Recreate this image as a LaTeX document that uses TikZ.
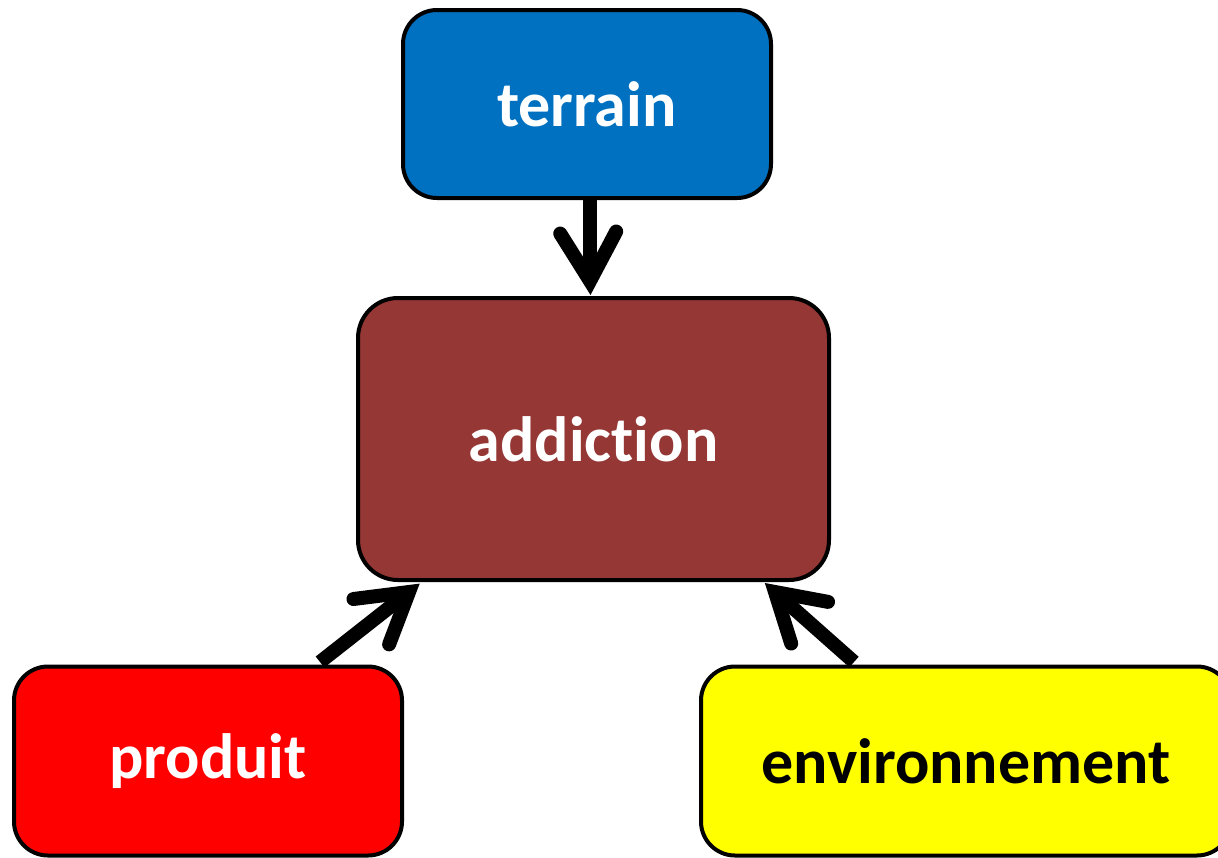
\documentclass[tikz,border=0pt]{standalone}
\usepackage{fontspec}
\setmainfont{Carlito}[Ligatures={NoCommon,NoRare}]
\usetikzlibrary{calc}
\definecolor{tblue}{HTML}{0070C0}
\definecolor{tbrown}{HTML}{953735}
\definecolor{tred}{HTML}{FF0000}
\definecolor{tyellow}{HTML}{FFFF00}
\tikzset{
  boxnode/.style={draw=black, line width=4pt, rounded corners=34pt, inner sep=0pt,
    font=\fontsize{64}{70}\selectfont\bfseries, text=white},
  shaft/.style={draw=black, line width=14pt, line cap=butt},
  chev/.style={draw=black, line width=14pt, line cap=round, line join=miter, miter limit=10}
}
\begin{document}
\begin{tikzpicture}[x=1pt,y=-1pt]
\useasboundingbox (0,0) rectangle (1218,857);
\node[boxnode, fill=tblue, minimum width=368pt, minimum height=188pt] (terrain) at (587,104) {terrain};
\node[boxnode, fill=tbrown, minimum width=471pt, minimum height=282pt, rounded corners=40pt] (addiction) at (593.5,439) {addiction};
\node[boxnode, fill=tred, minimum width=388pt, minimum height=189pt] (produit) at (208,761) {produit};
\node[boxnode, fill=tyellow, text=black, minimum width=530pt, minimum height=189pt] (env) at (966,761) {environnement};
% terrain -> addiction
\coordinate (tv) at ($(addiction.north)+(-3.5,-15)$);
\draw[shaft] ($(terrain.south)+(3,-2)$) -- (tv);
\draw[chev] ($(tv)!56pt!30:(terrain.south)$) -- (tv) -- ($(tv)!56pt!-30:(terrain.south)$);
% produit -> addiction
\coordinate (ps) at (320,662);
\coordinate (pv) at (409,592);
\draw[shaft] (ps) -- (pv);
\draw[chev] ($(pv)!56pt!31:(ps)$) -- (pv) -- ($(pv)!56pt!-31:(ps)$);
% environnement -> addiction
\coordinate (es) at (854,662);
\coordinate (ev) at (775,592);
\draw[shaft] (es) -- (ev);
\draw[chev] ($(ev)!54pt!31:(es)$) -- (ev) -- ($(ev)!54pt!-31:(es)$);
\end{tikzpicture}
\end{document}
